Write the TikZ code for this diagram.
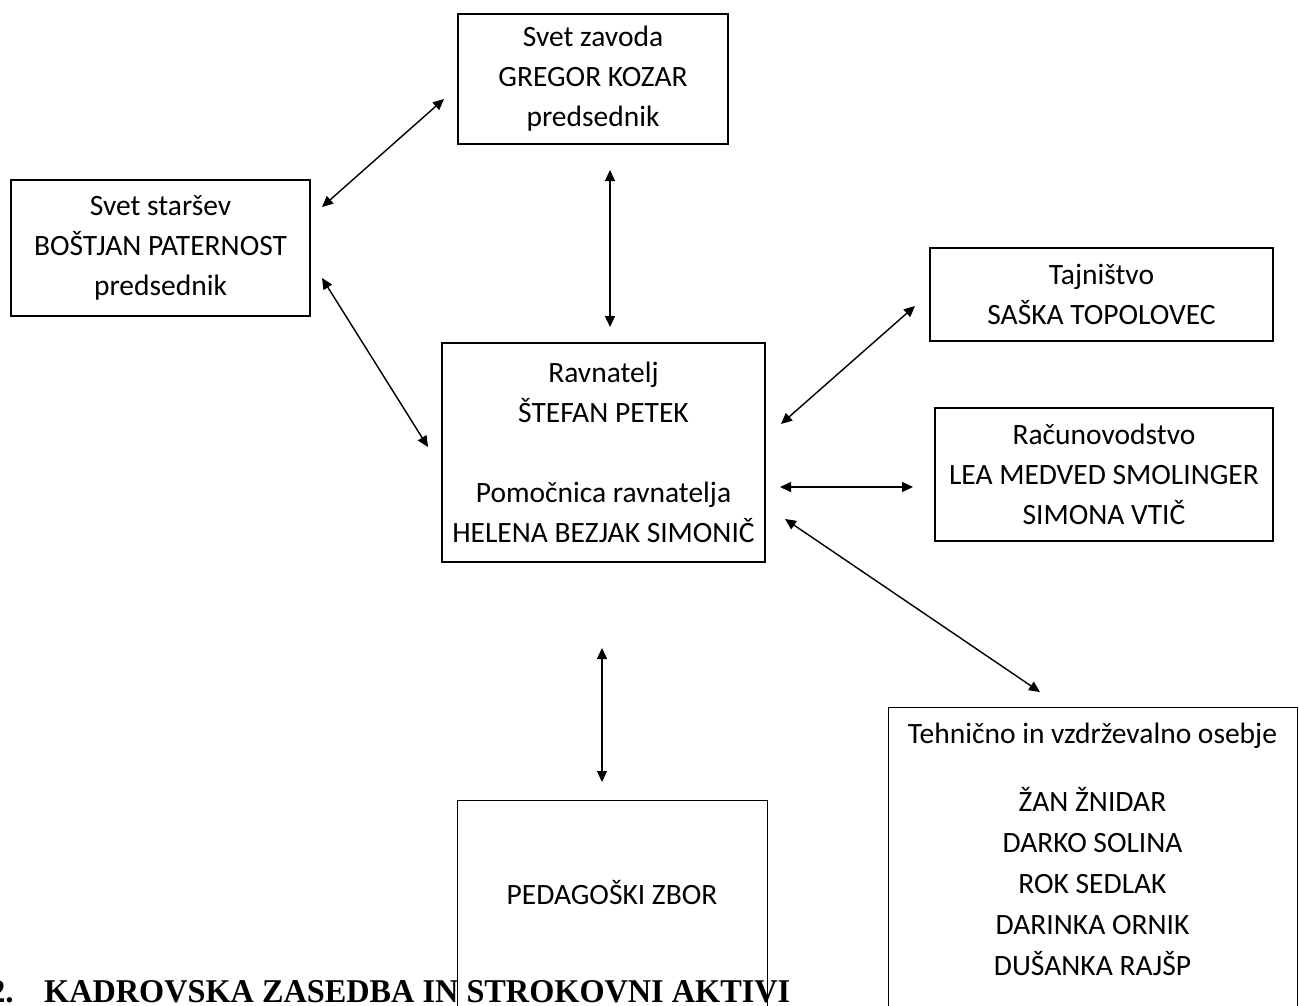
\documentclass[tikz,border=0pt]{standalone}
\usepackage{fontspec}
\usetikzlibrary{arrows.meta}
\newfontfamily\calfont{Carlito}
\newfontfamily\headfont{Liberation Serif}
\newcommand\boxfont{\calfont\fontsize{29.5}{40}\selectfont}
\newcommand\tehfont{\calfont\fontsize{29.5}{41}\selectfont}
\tikzset{
  box/.style={draw, line width=1.4pt, rectangle, inner sep=0pt, align=center, font=\boxfont},
  lbl/.style={inner sep=0pt, align=center, font=\boxfont},
  arr/.style={{Triangle[length=11pt,width=10pt]}-{Triangle[length=11pt,width=10pt]}, line width=1.4pt}
}
\begin{document}
\begin{tikzpicture}[x=1pt,y=-1pt]
\clip (0,0) rectangle (1299,1005);
\fill[white] (0,0) rectangle (1299,1005);
% boxes
\node[box, minimum width=270pt, minimum height=130pt] (zavod) at (593,79) {Svet zavoda\\GREGOR KOZAR\\predsednik};
\node[box, minimum width=299pt, minimum height=136pt] (starsev) at (160.5,248) {Svet staršev\\BOŠTJAN PATERNOST\\predsednik};
\node[box, minimum width=343pt, minimum height=93pt] (tajn) at (1101.5,294.5) {Tajništvo\\SAŠKA TOPOLOVEC};
\node[box, minimum width=323pt, minimum height=219pt] (ravn) at (603.5,452.5) {Ravnatelj\\ŠTEFAN PETEK\\[40pt]Pomočnica ravnatelja\\HELENA BEZJAK SIMONIČ};
\node[box, minimum width=338pt, minimum height=133pt] (racun) at (1104,474.5) {Računovodstvo\\LEA MEDVED SMOLINGER\\SIMONA VTIČ};
\node[box, minimum width=409pt, minimum height=340pt, anchor=north west] (teh) at (888,707) {};
\node[lbl, anchor=base] (tehtitle) at (1092.5,743) {Tehnično in vzdrževalno osebje};
\node[lbl, font=\tehfont] (tehnames) at (1092.5,882) {ŽAN ŽNIDAR\\DARKO SOLINA\\ROK SEDLAK\\DARINKA ORNIK\\DUŠANKA RAJŠP};
\node[box, minimum width=310pt, minimum height=260pt, anchor=north west] (ped) at (457,800) {};
\node[lbl] (pedtxt) at (612,893) {PEDAGOŠKI ZBOR};
% heading
\node[anchor=base east, inner sep=0pt] (headnum) at (14,1002) {\resizebox{!}{22pt}{\headfont\bfseries 2.}};
\node[anchor=base west, inner sep=0pt] (head) at (44,1002) {\resizebox{746pt}{22pt}{\headfont\bfseries KADROVSKA ZASEDBA IN STROKOVNI AKTIVI}};
% connector end points
\coordinate (a1s) at (322,207); \coordinate (a1e) at (444,99);
\coordinate (a2s) at (610,170); \coordinate (a2e) at (610,327);
\coordinate (a3s) at (322,278); \coordinate (a3e) at (428,447);
\coordinate (a4s) at (781,424); \coordinate (a4e) at (915,306);
\coordinate (a5s) at (780,487); \coordinate (a5e) at (913,487);
\coordinate (a6s) at (785,519); \coordinate (a6e) at (1040,692);
\coordinate (a7s) at (602,648); \coordinate (a7e) at (602,782);
\draw[arr] (a1s) -- (a1e);
\draw[arr] (a2s) -- (a2e);
\draw[arr] (a3s) -- (a3e);
\draw[arr] (a4s) -- (a4e);
\draw[arr] (a5s) -- (a5e);
\draw[arr] (a6s) -- (a6e);
\draw[arr] (a7s) -- (a7e);
\end{tikzpicture}
\end{document}
